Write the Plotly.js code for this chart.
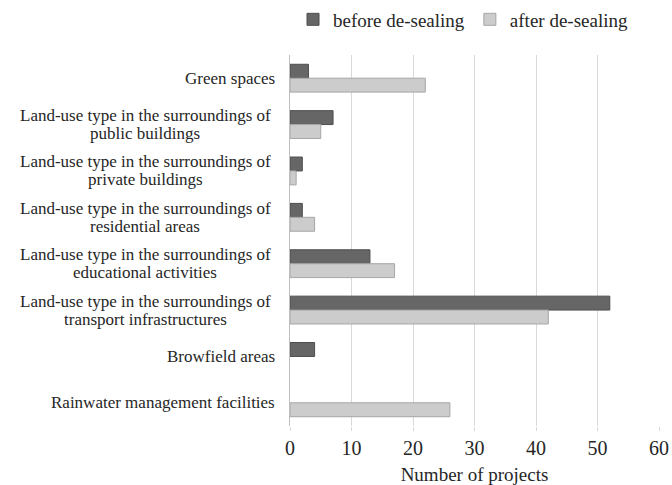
<!DOCTYPE html>
<html>
<head>
<meta charset="utf-8">
<script src="https://cdn.plot.ly/plotly-3.0.1.min.js"></script>
<style>html,body{margin:0;padding:0;background:#fff;}#chart{width:672px;height:485px;}</style>
</head>
<body>
<div id="chart"></div>
<script>
const categories = [
  "Green spaces",
  "Land-use type in the surroundings of<br>public buildings",
  "Land-use type in the surroundings of<br>private buildings",
  "Land-use type in the surroundings of<br>residential areas",
  "Land-use type in the surroundings of<br>educational activities",
  "Land-use type in the surroundings of<br>transport infrastructures",
  "Browfield areas",
  "Rainwater management facilities"
];
const beforeValues = [3, 7, 2, 2, 13, 52, 4, 0];
const afterValues = [22, 5, 1, 4, 17, 42, 0, 26];
const seriesNames = ["before de-sealing", "after de-sealing"];
const xTicks = [0, 10, 20, 30, 40, 50, 60];

const font = "Liberation Serif, Times New Roman, serif";
const hideZero = v => (v === 0 ? null : v);

const traces = [
  {type: "bar", orientation: "h", name: seriesNames[0], y: categories, x: beforeValues.map(hideZero),
   marker: {color: "#666666", line: {color: "#4d4d4d", width: 1}}},
  {type: "bar", orientation: "h", name: seriesNames[1], y: categories, x: afterValues.map(hideZero),
   marker: {color: "#cccccc", line: {color: "#a6a6a6", width: 1}}}
];

const plotW = 672 - 290 - 13;
const pxToPaper = px => (px - 290) / plotW;
const labelFont = {family: font, size: 17, color: "#262626"};
const annotations = [];
categories.forEach(c => {
  const lines = c.split("<br>");
  if (lines.length === 1) {
    annotations.push({xref: "paper", yref: "y", x: pxToPaper(277), y: c, text: c,
      xanchor: "right", yanchor: "middle", showarrow: false, font: labelFont});
  } else {
    lines.forEach((ln, i) => {
      annotations.push({xref: "paper", yref: "y", x: pxToPaper(145), y: c, text: ln,
        xanchor: "center", yanchor: "middle", showarrow: false, font: labelFont,
        yshift: i === 0 ? 9 : -9});
    });
  }
});

const layout = {
  width: 672, height: 485,
  margin: {l: 290, r: 13, t: 55, b: 59},
  paper_bgcolor: "#ffffff", plot_bgcolor: "#ffffff",
  barmode: "group", bargap: 0.4, bargroupgap: 0,
  font: {family: font, color: "#262626"},
  showlegend: true,
  legend: {orientation: "h", xref: "container", yref: "container", x: 0.689, xanchor: "center",
           y: 0.999, yanchor: "top",
           font: {family: font, size: 19, color: "#262626"}, traceorder: "normal",
           itemwidth: 30},
  xaxis: {range: [0, 60], tickvals: xTicks, showgrid: true, gridcolor: "#d9d9d9", gridwidth: 1,
          zeroline: false, showline: false, ticks: "outside", ticklen: 4, tickcolor: "#d9d9d9",
          tickfont: {family: font, size: 20, color: "#262626"},
          title: {text: "Number of projects", font: {family: font, size: 19, color: "#262626"}, standoff: 11},
          fixedrange: true, automargin: false},
  yaxis: {type: "category", autorange: "reversed", showticklabels: false, ticks: "",
          showline: true, linecolor: "#bfbfbf", linewidth: 1, showgrid: false, zeroline: false},
  annotations: annotations
};

Plotly.newPlot("chart", traces, layout, {displayModeBar: false, staticPlot: true});
</script>
</body>
</html>
